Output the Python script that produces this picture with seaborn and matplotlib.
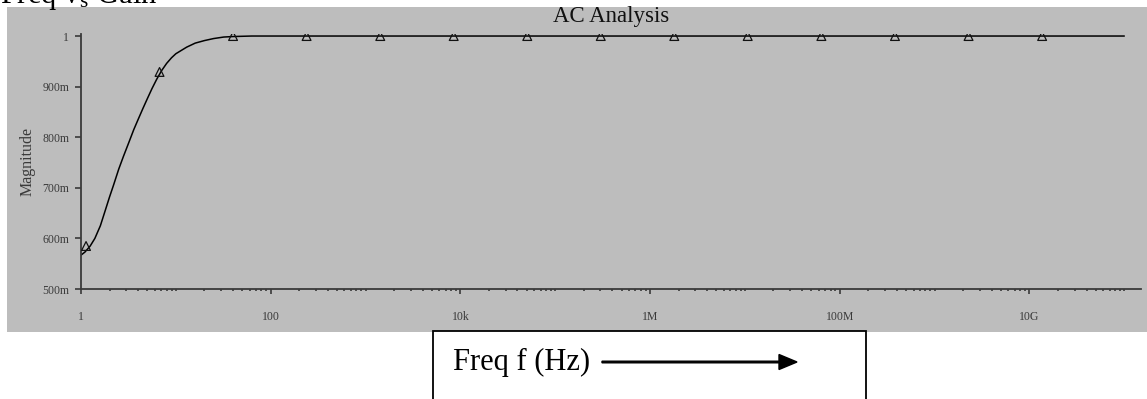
import matplotlib
matplotlib.use("Agg")
import matplotlib.pyplot as plt
import matplotlib.ticker as mticker
from matplotlib.patches import Rectangle, FancyArrow
import seaborn as sns
import pandas as pd

# Simulated AC sweep: magnitude of the response vs frequency (Hz)
freq = [1.0, 1.1, 1.25, 1.4, 1.6, 1.8, 2.0, 2.2, 2.5, 2.8, 3.2, 3.6, 4.0, 4.5,
        5.0, 5.6, 6.3, 7.1, 8.0, 9.0, 10.0, 13.0, 16.0, 20.0, 25.0, 32.0,
        40.0, 63.0, 100.0, 1e3, 1e6, 1e9, 1e11]
magnitude = [0.567, 0.573, 0.585, 0.600, 0.625, 0.655, 0.682, 0.705, 0.737,
             0.762, 0.790, 0.815, 0.835, 0.857, 0.876, 0.896, 0.915, 0.932,
             0.946, 0.957, 0.965, 0.978, 0.986, 0.991, 0.995, 0.998, 0.999,
             1.0, 1.0, 1.0, 1.0, 1.0, 1.0]

# Trace marker samples
marker_freq = [1.13, 6.73, 40.1, 239.0, 1.43e3, 8.5e3, 5.07e4, 3.02e5, 1.8e6,
               1.07e7, 6.4e7, 3.82e8, 2.28e9, 1.36e10]
marker_mag = [0.585, 0.929, 1.0, 1.0, 1.0, 1.0, 1.0, 1.0, 1.0, 1.0, 1.0, 1.0,
              1.0, 1.0]

x_major = [1, 1e2, 1e4, 1e6, 1e8, 1e10]
x_labels = ["1", "100", "10k", "1M", "100M", "10G"]
y_major = [0.5, 0.6, 0.7, 0.8, 0.9, 1.0]
y_labels = ["500m", "600m", "700m", "800m", "900m", "1"]

W, H = 1147, 399
BG = "#bdbdbd"
INK = "#3a3a3a"

sns.set_theme(style="ticks")
plt.rcParams["font.family"] = ["Liberation Serif", "DejaVu Serif"]
plt.rcParams["mathtext.fontset"] = "stix"

fig = plt.figure(figsize=(W / 100, H / 100), dpi=100)
fig.patch.set_facecolor("white")

# grey plotting panel behind the axes
fig.patches.append(Rectangle((7 / W, (H - 332) / H), (W - 7) / W, (332 - 7) / H,
                             transform=fig.transFigure, facecolor=BG,
                             edgecolor="none", zorder=-2))

ax = fig.add_axes([81 / W, (H - 289) / H, (1141 - 81) / W, (289 - 33.5) / H])
ax.set_zorder(2)
ax.set_facecolor(BG)

curve = pd.DataFrame({"freq": freq, "magnitude": magnitude})
marks = pd.DataFrame({"freq": marker_freq, "magnitude": marker_mag})

sns.lineplot(data=curve, x="freq", y="magnitude", ax=ax, color="black",
             linewidth=1.1, sort=False)
sns.scatterplot(data=marks, x="freq", y="magnitude", ax=ax, marker="^", s=40,
                color="black", linewidth=0.9, zorder=3)
for coll in ax.collections:
    coll.set_facecolor("none")
    coll.set_edgecolor("#111111")

ax.set_xscale("log")
ax.set_xlim(1, 1.5e11)
ax.set_ylim(0.5, 1.005)

ax.xaxis.set_major_locator(mticker.FixedLocator(x_major))
ax.xaxis.set_major_formatter(mticker.FixedFormatter(x_labels))
ax.xaxis.set_minor_locator(mticker.LogLocator(base=10, subs=range(1, 10), numticks=40))
ax.xaxis.set_minor_formatter(mticker.NullFormatter())
ax.yaxis.set_major_locator(mticker.FixedLocator(y_major))
ax.yaxis.set_major_formatter(mticker.FixedFormatter(y_labels))

ax.tick_params(axis="x", which="major", direction="out", length=3.5, width=1.2,
               color=INK, labelsize=8.5, labelcolor=INK, pad=12)
ax.tick_params(axis="x", which="minor", direction="out", length=1.3, width=1.2,
               color=INK)
ax.tick_params(axis="y", which="major", direction="out", length=4.5, width=1.2,
               color=INK, labelsize=8.5, labelcolor=INK, pad=4)

sns.despine(ax=ax)
for side in ("left", "bottom"):
    ax.spines[side].set_color(INK)
    ax.spines[side].set_linewidth(1.3)

ax.set_xlabel("")
ax.set_ylabel("Magnitude", fontsize=11.5, color=INK, labelpad=5)
ax.set_title("AC Analysis", fontsize=16.5, color="#111111", pad=8)

# page heading, partly above the top edge
fig.text(0.0, 1 - 3 / H, r"Freq v$_\mathregular{s}$ Gain", fontsize=22,
         ha="left", va="baseline", color="black")

# caption box with axis direction arrow
fig.patches.append(Rectangle((433 / W, -0.05), (866 - 433) / W, (H - 331) / H + 0.05,
                             transform=fig.transFigure, facecolor="white",
                             edgecolor="black", linewidth=1.3, zorder=4))
fig.text(453 / W, (H - 370) / H, "Freq f (Hz)", fontsize=22, ha="left",
         va="baseline", color="black", zorder=5)
fig.patches.append(FancyArrow(602 / W, (H - 362) / H, (797 - 602) / W, 0,
                              width=1.6 / H, head_width=15 / H,
                              head_length=18 / W, length_includes_head=True,
                              transform=fig.transFigure, color="black",
                              zorder=5))

fig.savefig("out.png", dpi=100, facecolor="white")
